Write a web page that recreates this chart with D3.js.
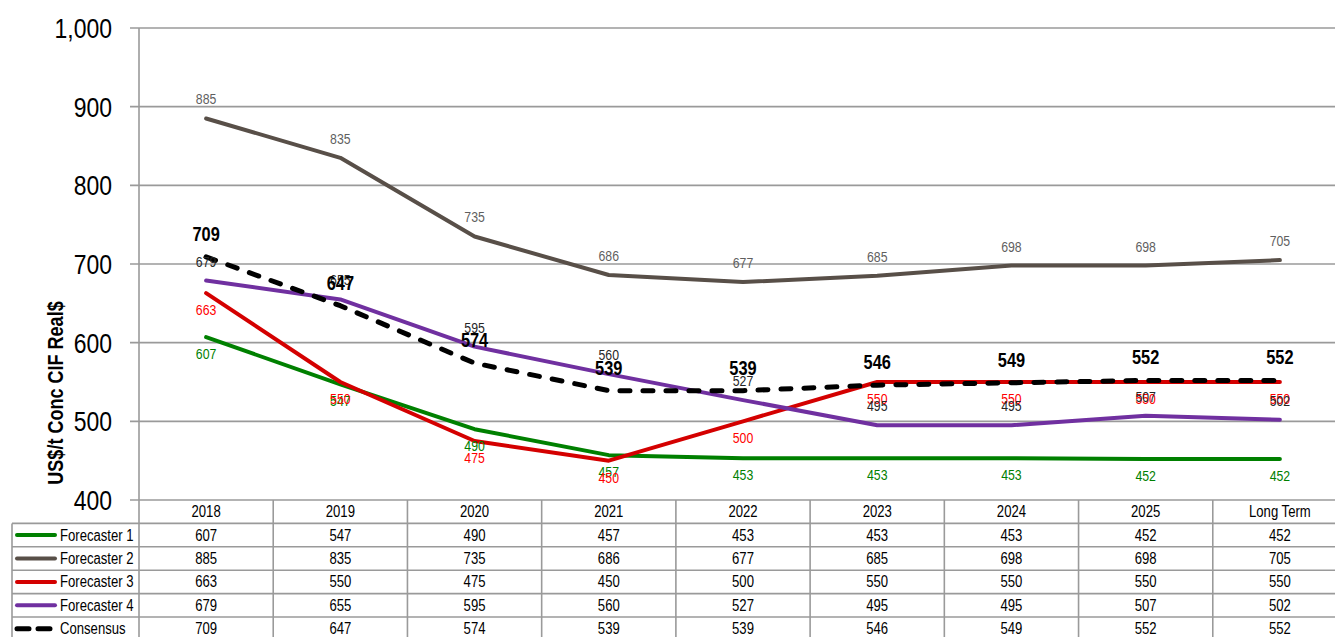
<!DOCTYPE html>
<meta charset="utf-8">
<head>
  <title>Price forecasts</title>
  <script src="https://cdn.jsdelivr.net/npm/d3@7"></script>
  <style>
    body { margin: 0; background: #fff; }
    text { font-family: "Liberation Sans", Arial, sans-serif; }
  </style>
</head>
<body>
<div id="chart"></div>
<script>
var years = ["2018", "2019", "2020", "2021", "2022", "2023", "2024", "2025", "Long Term"];
var forecaster1 = [607, 547, 490, 457, 453, 453, 453, 452, 452];
var forecaster2 = [885, 835, 735, 686, 677, 685, 698, 698, 705];
var forecaster3 = [663, 550, 475, 450, 500, 550, 550, 550, 550];
var forecaster4 = [679, 655, 595, 560, 527, 495, 495, 507, 502];
var consensus   = [709, 647, 574, 539, 539, 546, 549, 552, 552];
var yTicks = [400, 500, 600, 700, 800, 900, 1000];

var series = [
  {name: "Forecaster 1", values: forecaster1, color: "#008000", label: "#008000", dy: 22, width: 4},
  {name: "Forecaster 2", values: forecaster2, color: "#584f48", label: "#5f5f5f", dy: -14, width: 4},
  {name: "Forecaster 3", values: forecaster3, color: "#d40000", label: "#ff0000", dy: 22, width: 4},
  {name: "Forecaster 4", values: forecaster4, color: "#7030a0", label: "#262626", dy: -14, width: 4},
  {name: "Consensus", values: consensus, color: "#000000", label: "#000000", dy: -16, width: 5, dash: true}
];

var W = 1335, H = 637;
var plotL = 139, plotR = 1347, plotT = 28, plotB = 500;
var rowH = 23.4;
var narrow = 0.82;   // squeeze Liberation Sans toward a narrow face

var svg = d3.select("#chart").append("svg")
    .attr("width", W).attr("height", H);

var x = d3.scaleBand().domain(years).range([plotL, plotR]).padding(0);
var y = d3.scaleLinear().domain([400, 1000]).range([plotB, plotT]);
var cx = function(d) { return x(d) + x.bandwidth() / 2; };

function place(xp, yp) {
  return "translate(" + xp + "," + yp + ") scale(" + narrow + ",1)";
}

// gridlines + ticks
svg.append("g").selectAll("line").data(yTicks).enter().append("line")
    .attr("x1", 130).attr("x2", W)
    .attr("y1", function(d) { return y(d); }).attr("y2", function(d) { return y(d); })
    .attr("stroke", "#9a9a9a").attr("stroke-width", 1.6);

svg.append("g").selectAll("text").data(yTicks).enter().append("text")
    .attr("transform", function(d) { return place(112, y(d) + 10); })
    .attr("text-anchor", "end")
    .style("font-size", "28px").attr("fill", "#000")
    .text(d3.format(","));

// y axis title
svg.append("text")
    .attr("transform", "translate(63,393) rotate(-90) scale(" + narrow + ",1)")
    .attr("text-anchor", "middle")
    .style("font-size", "22px").style("font-weight", "bold")
    .text("US$/t Conc CIF  Real$");

// table grid
var tableBottom = plotB + rowH * (series.length + 1) + 4;
var colEdges = years.map(function(d) { return x(d); }).concat([plotR]);
svg.append("g").selectAll("line").data(colEdges).enter().append("line")
    .attr("x1", function(d) { return d; }).attr("x2", function(d) { return d; })
    .attr("y1", function(d, i) { return i == 0 ? plotT : plotB; }).attr("y2", tableBottom)
    .attr("stroke", "#9a9a9a").attr("stroke-width", 1.6);

var rowEdges = d3.range(1, series.length + 1).map(function(i) { return plotB + rowH * i; });
svg.append("g").selectAll("line").data(rowEdges).enter().append("line")
    .attr("x1", 12).attr("x2", W)
    .attr("y1", function(d) { return d; }).attr("y2", function(d) { return d; })
    .attr("stroke", "#9a9a9a").attr("stroke-width", 1.6);
svg.append("line")
    .attr("x1", 12).attr("x2", 12).attr("y1", plotB + rowH).attr("y2", tableBottom)
    .attr("stroke", "#9a9a9a").attr("stroke-width", 1.6);

// header
svg.append("g").selectAll("text").data(years).enter().append("text")
    .attr("transform", function(d) { return place(cx(d), plotB + rowH / 2 + 5.5); })
    .attr("text-anchor", "middle").style("font-size", "16px")
    .text(function(d) { return d; });

// table rows
series.forEach(function(s, i) {
  var ry = plotB + rowH * (i + 1) + rowH / 2;
  svg.append("line")
      .attr("x1", 17).attr("x2", 55).attr("y1", ry).attr("y2", ry)
      .attr("stroke", s.color).attr("stroke-width", s.width)
      .attr("stroke-linecap", "round")
      .attr("stroke-dasharray", s.dash ? "12,9" : null);
  svg.append("text").attr("transform", place(60, ry + 5.5))
      .style("font-size", "16px").text(s.name);
  svg.append("g").selectAll("text").data(s.values).enter().append("text")
      .attr("transform", function(d, j) { return place(cx(years[j]), ry + 5.5); })
      .attr("text-anchor", "middle").style("font-size", "16px")
      .text(function(d) { return d; });
});

// lines
var line = d3.line()
    .x(function(d, j) { return cx(years[j]); })
    .y(function(d) { return y(d); });

series.forEach(function(s) {
  svg.append("path").datum(s.values)
      .attr("d", line)
      .attr("fill", "none")
      .attr("stroke", s.color)
      .attr("stroke-width", s.width)
      .attr("stroke-linecap", "round")
      .attr("stroke-linejoin", "round")
      .attr("stroke-dasharray", s.dash ? "10,13" : null);
});

// point labels
series.forEach(function(s) {
  svg.append("g").selectAll("text").data(s.values).enter().append("text")
      .attr("transform", function(d, j) { return place(cx(years[j]), y(d) + s.dy); })
      .attr("text-anchor", "middle")
      .attr("fill", s.label)
      .style("font-size", s.dash ? "20px" : "15px")
      .style("font-weight", s.dash ? "bold" : "normal")
      .text(function(d) { return d; });
});
</script>
</body>
</html>
